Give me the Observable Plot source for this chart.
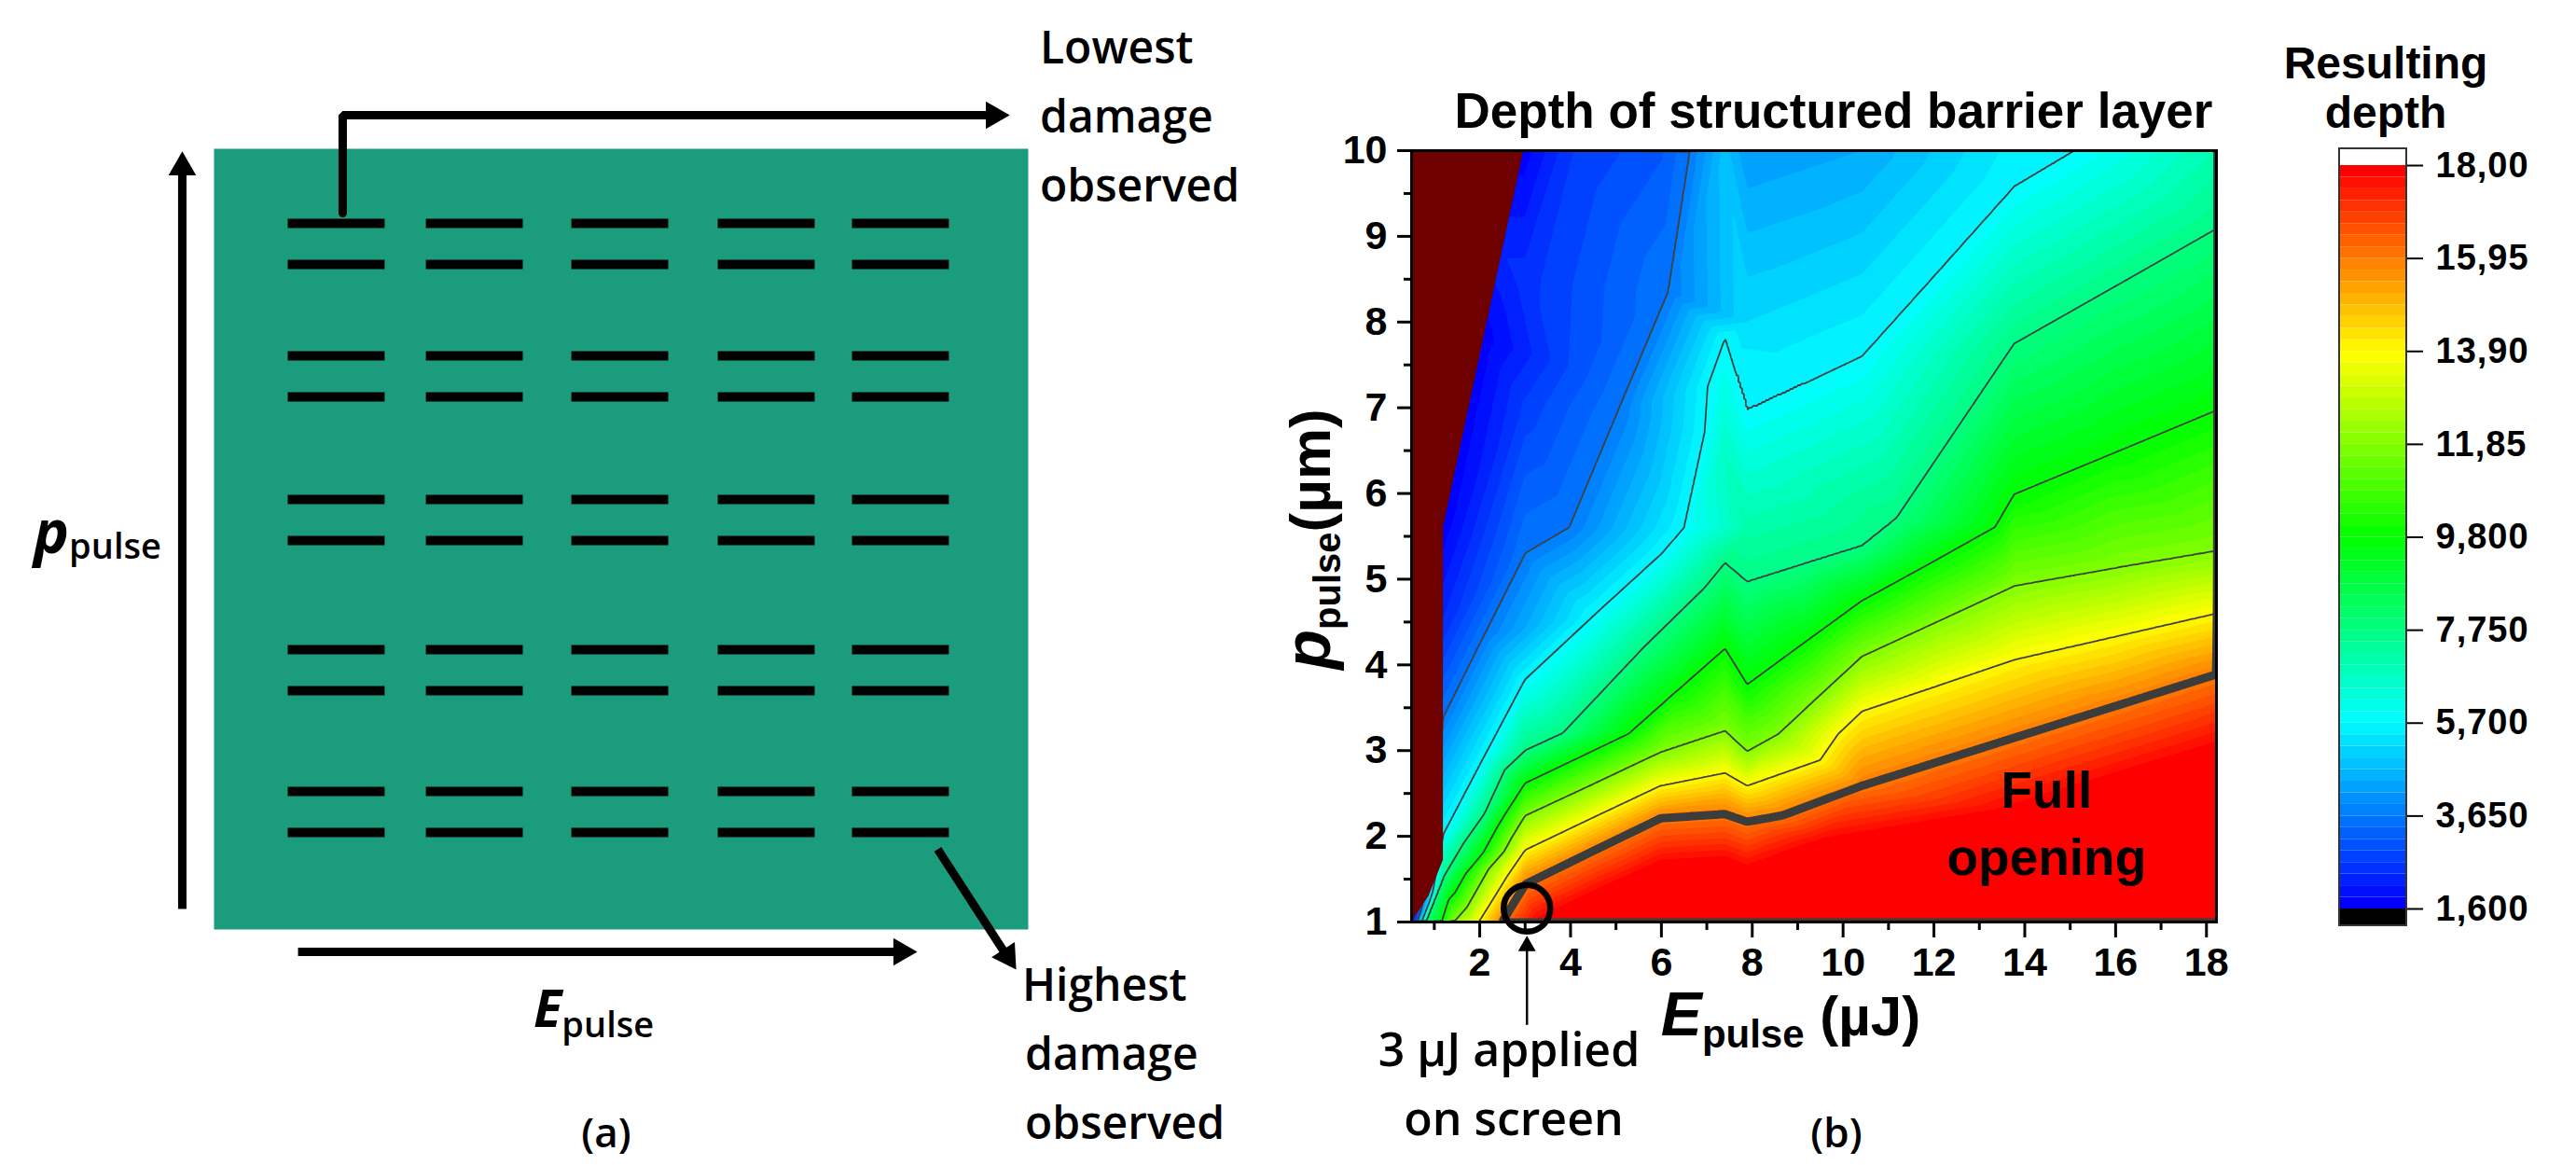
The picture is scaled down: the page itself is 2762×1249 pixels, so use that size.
<!DOCTYPE html>
<html>
<head>
<meta charset="utf-8">
<script src="https://cdn.jsdelivr.net/npm/d3@7"></script>
<script src="https://cdn.jsdelivr.net/npm/@observablehq/plot@0.6"></script>
<style>
  html, body { margin: 0; padding: 0; background: #ffffff; }
  #root { position: relative; width: 2762px; height: 1249px; overflow: hidden; background: #ffffff; }
  #root > svg { position: absolute; }
</style>
</head>
<body>
<div id="root"></div>
<script>
// ================= DATA =================
// Panel (b): iso-depth lines (E in µJ, p in µm)
const isoLevels = [3.65, 5.7, 7.75, 9.8, 11.85, 13.9, 15.95, 18];
const isoE = [
  [0.62, 1.2, 2.1, 3.0, 3.97, 5.06, 6.15, 6.63],
  [0.72, 1.2, 2.1, 3.0, 4.5, 6.01, 6.5, 6.95, 7.4, 7.645, 7.89, 9.15, 10.42, 12.1, 13.77, 15.1],
  [0.81, 1.2, 2.1, 3.0, 3.82, 5.6, 7.4, 7.645, 7.89, 9.15, 10.42, 11.17, 12.47, 13.77, 16.0, 18.22],
  [1.16, 2.08, 3.0, 4.15, 5.29, 6.35, 7.4, 7.645, 7.89, 9.15, 10.42, 11.9, 13.35, 13.77, 16.0, 18.22],
  [1.43, 2.2, 3.0, 4.5, 5.98, 7.4, 7.645, 7.89, 8.57, 9.5, 10.42, 12.1, 13.77, 16.0, 18.22],
  [1.98, 3.0, 4.5, 5.98, 7.4, 7.645, 7.89, 9.9, 10.42, 12.1, 13.77, 16.0, 18.22],
  [2.49, 3.0, 4.5, 5.98, 7.4, 7.89, 10.42, 13.77, 16.0, 18.22],
  [3.3, 4.6, 5.98, 7.4, 7.89, 9.46, 13.77, 18.22, 18.22]
];
const isoP = [
  [1, 3.39, 4.35, 5.3, 5.6, 6.98, 8.35, 10],
  [1, 2.02, 2.93, 3.83, 4.57, 5.3, 5.6, 6.7, 7.81, 7.39, 6.97, 7.28, 7.6, 8.59, 9.58, 10],
  [1, 1.52, 2.26, 3.0, 3.2, 4.2, 5.19, 5.08, 4.97, 5.18, 5.39, 5.71, 6.73, 7.75, 8.42, 9.09],
  [1, 1.81, 2.62, 2.91, 3.2, 3.7, 4.19, 3.98, 3.77, 4.26, 4.75, 5.18, 5.61, 5.99, 6.48, 6.97],
  [1, 1.62, 2.24, 2.61, 2.98, 3.23, 3.11, 2.99, 3.19, 3.65, 4.10, 4.51, 4.92, 5.13, 5.33],
  [1, 1.84, 2.22, 2.59, 2.74, 2.665, 2.59, 3.2, 3.46, 3.76, 4.06, 4.33, 4.6],
  [1, 1.44, 1.83, 2.21, 2.26, 2.17, 2.59, 3.15, 3.52, 3.89],
  [1, 1.33, 1.66, 1.7, 1.6, 1.9, 2.28, 3.0, 1]
];
// extra depth samples
const extraE = [0.5, 0.5, 0.5, 1.2, 1.2, 2.08, 2.97, 3.0, 3.0, 4.0, 4.0, 6.0, 7.4, 7.89, 10.42, 13.77, 18.22,
                7.4, 7.4, 7.4, 7.4, 7.4, 7.4, 7.4, 7.4, 7.89, 7.89, 7.89, 7.89, 7.89, 7.89, 7.89, 7.89];
const extraP = [1, 5, 10, 5.6, 4.5, 7.8, 10, 8.5, 7.0, 7.5, 10, 10, 10, 10, 10, 10, 10,
                7.3, 6.9, 6.5, 4.7, 3.7, 3.0, 2.5, 2.0, 8.0, 6.5, 5.6, 4.3, 3.4, 2.8, 2.35, 1.9];
const extraV = [1.7, 1.7, 1.7, 1.7, 2.4, 1.7, 1.7, 2.5, 2.7, 2.9, 2.6, 3.1, 4.8, 4.2, 4.42, 5.55, 7.0,
                6.1, 6.4, 6.7, 8.75, 10.85, 12.8, 14.93, 16.9, 5.19, 6.2, 7.1, 8.9, 10.8, 12.8, 15.07, 16.92];
// region without data (dark red), boundary vertices
const blankE = [0.5, 0.88, 1.2, 1.2, 2.97];
const blankP = [1, 1.3, 1.72, 5.6, 10];
// contour lines drawn in the map
const thinLevels = [3.65, 5.7, 7.75, 9.8, 11.85, 13.9];
const thickLevels = [15.95];
// colour bar
const depthMin = 1.6, depthMax = 18, bandCount = 64;
const barTicks = [1.6, 3.65, 5.7, 7.75, 9.8, 11.85, 13.9, 15.95, 18];
const barLabels = ["1,600", "3,650", "5,700", "7,750", "9,800", "11,85", "13,90", "15,95", "18,00"];
// axes
const xMajor = [2, 4, 6, 8, 10, 12, 14, 16, 18];
const xMinor = [1, 3, 5, 7, 9, 11, 13, 15, 17];
const yMajor = [1, 2, 3, 4, 5, 6, 7, 8, 9, 10];
const yMinor = [1.5, 2.5, 3.5, 4.5, 5.5, 6.5, 7.5, 8.5, 9.5];
// annotation: circle at 3 µJ
const marker = [{E: 3.04, p: 1.16}];

// Panel (a): schematic grid (column / row centres in grid units)
const dashCols = [0.900, 1.918, 2.990, 4.069, 5.058];
const dashRows = [0.731, 1.749, 2.853, 4.007, 5.097];
const bracket = [{x: 0.948, y: 0.495}, {x: 0.948, y: -0.258}, {x: 5.73, y: -0.258}];
const shafts = [
  {x1: -0.234, y1: 5.842, x2: -0.234, y2: 0.16},
  {x1: 0.619, y1: 6.172, x2: 5.06, y2: 6.172},
  {x1: 5.333, y1: 5.384, x2: 5.84, y2: 6.2}
];
const heads = [
  {x: -0.234, y: 0.143, rot: 0},
  {x: 5.065, y: 6.172, rot: 90},
  {x: 5.746, y: -0.258, rot: 90},
  {x: 5.847, y: 6.206, rot: 147}
];

// ================= BUILD =================
const samples = [];
isoLevels.forEach((v, i) => isoE[i].forEach((E, j) => samples.push({E, p: isoP[i][j], v})));
extraE.forEach((E, j) => samples.push({E, p: extraP[j], v: extraV[j]}));
const blank = blankE.map((e, i) => ({e, p: blankP[i]}));

const EPS = 1e-6;
const bandStep = (depthMax - depthMin) / bandCount;
const bandThresholds = d3.range(bandCount).map(k => depthMin + k * bandStep + EPS);
const rainbow = d3.piecewise(d3.interpolateRgb, ["#0000ff", "#00ffff", "#00ff00", "#ffff00", "#ff0000"]);
const bandColors = bandThresholds.map((t, k) => rainbow(k / (bandCount - 1)));
const colorScale = {type: "threshold", domain: bandThresholds.slice(1), range: bandColors};
const bands = bandThresholds.map((t, k) => ({lo: t, hi: k === bandCount - 1 ? depthMax : bandThresholds[k + 1]}));
const thinThresholds = thinLevels.map(v => v + 1e-4);
const thickThresholds = thickLevels.map(v => v + 1e-4);

const SANS = "'Liberation Sans', Arial, Helvetica, sans-serif";
const SEG = "'Open Sans', 'Noto Sans', sans-serif";
const root = document.getElementById("root");
function place(node, left, top) { node.style.left = left + "px"; node.style.top = top + "px"; root.appendChild(node); }

// ---------- Panel (a) ----------
const dashes = [];
for (const c of dashCols) for (const r of dashRows) for (const o of [-0.158, 0.158]) dashes.push({x1: c - 0.357, x2: c + 0.357, y: r + o});
const plotA = Plot.plot({
  width: 1400, height: 1249,
  marginLeft: 229, marginRight: 298, marginTop: 159, marginBottom: 253,
  x: {domain: [0, 6], axis: null},
  y: {domain: [0, 6], reverse: true, axis: null},
  style: {background: "transparent", overflow: "visible"},
  marks: [
    Plot.frame({fill: "#1b9c7c", stroke: "none"}),
    Plot.link(dashes, {x1: "x1", x2: "x2", y1: "y", y2: "y", stroke: "black", strokeWidth: 10, strokeLinecap: "butt"}),
    Plot.line(bracket, {x: "x", y: "y", stroke: "black", strokeWidth: 9, strokeLinejoin: "miter"}),
    Plot.link(shafts, {x1: "x1", y1: "y1", x2: "x2", y2: "y2", stroke: "black", strokeWidth: 9}),
    Plot.dot(heads, {x: "x", y: "y", rotate: "rot", symbol: "triangle", r: 11, fill: "black", stroke: "none"})
  ]
});
place(plotA, 0, 0);

// ---------- Panel (b) ----------
const contourBase = {x: "E", y: "p", value: "v", interpolate: "barycentric", x1: 0.2, x2: 18.6, y1: 0.7, y2: 10.3, clip: true, pixelSize: 2};
const plotB = Plot.plot({
  width: 1100, height: 1249,
  marginLeft: 163, marginRight: 74, marginTop: 161, marginBottom: 261,
  x: {domain: [0.5, 18.22]},
  y: {domain: [1, 10]},
  color: colorScale,
  style: {fontFamily: SANS, fontWeight: "bold", fontSize: "43px", color: "black", background: "transparent", overflow: "visible"},
  marks: [
    Plot.contour(samples, {...contourBase, fill: "value", stroke: "none", thresholds: bandThresholds}),
    Plot.contour(samples, {...contourBase, fill: "none", stroke: "#404040", strokeWidth: 1.8, thresholds: thinThresholds}),
    Plot.contour(samples, {...contourBase, fill: "none", stroke: "#3c3c3c", strokeWidth: 9, thresholds: thickThresholds}),
    Plot.areaX(blank, {y: "p", x1: 0.5, x2: "e", fill: "#6e0000", stroke: "none"}),
    Plot.dot(marker, {x: "E", y: "p", r: 25, stroke: "black", strokeWidth: 6.5, fill: "none"}),
    Plot.link([{E: 3.04, p0: -0.2, p1: 0.74}], {x1: "E", x2: "E", y1: "p0", y2: "p1", stroke: "black", strokeWidth: 2.5}),
    Plot.dot([{E: 3.04, p: 0.72}], {x: "E", y: "p", symbol: "triangle", r: 7, fill: "black", stroke: "none"}),
    Plot.text([{E: 14.48, p: 2.19}], {x: "E", y: "p", text: () => "Full\nopening", fontSize: 55, fontWeight: "bold", lineHeight: 1.3, fill: "black"}),
    Plot.frame({stroke: "black", strokeWidth: 3}),
    Plot.axisX({ticks: xMajor, tickSize: 17, tickPadding: 10, strokeWidth: 3, label: null, fontSize: 43, fontWeight: "bold"}),
    Plot.axisX({ticks: xMinor, tickSize: 9, tickFormat: () => "", strokeWidth: 3, label: null}),
    Plot.axisY({ticks: yMajor, tickSize: 15, tickPadding: 11, strokeWidth: 3, label: null, fontSize: 43, fontWeight: "bold"}),
    Plot.axisY({ticks: yMinor, tickSize: 8, tickFormat: () => "", strokeWidth: 3, label: null})
  ]
});
place(plotB, 1350, 0);

// ---------- Colour bar ----------
const plotC = Plot.plot({
  width: 362, height: 1249,
  marginLeft: 108, marginRight: 182, marginTop: 177, marginBottom: 275,
  x: {domain: [0, 1], axis: null},
  y: {domain: [depthMin, depthMax]},
  color: colorScale,
  style: {fontFamily: SANS, fontWeight: "bold", fontSize: "38px", color: "black", background: "transparent", overflow: "visible", letterSpacing: "1px"},
  marks: [
    Plot.rect(bands, {x1: 0, x2: 1, y1: "lo", y2: "hi", fill: "lo"}),
    Plot.rect([{lo: 18, hi: 18.37}], {x1: 0, x2: 1, y1: "lo", y2: "hi", fill: "white"}),
    Plot.rect([{lo: 1.23, hi: 1.6}], {x1: 0, x2: 1, y1: "lo", y2: "hi", fill: "black"}),
    Plot.rect([{lo: 1.23, hi: 18.37}], {x1: 0, x2: 1, y1: "lo", y2: "hi", fill: "none", stroke: "#333", strokeWidth: 2}),
    Plot.axisY({anchor: "right", ticks: barTicks, tickFormat: d => barLabels[barTicks.indexOf(d)], tickSize: 17, tickPadding: 14, strokeWidth: 2, label: null, fontSize: 38, fontWeight: "bold"})
  ]
});
place(plotC, 2400, 0);

// ---------- Text overlay ----------
const ov = d3.select(root).append("svg").attr("width", 2762).attr("height", 1249).style("left", "0px").style("top", "0px");
function addText(x, y, anchor, family, parts, rotate) {
  const g = ov.append("g").attr("transform", `translate(${x},${y})` + (rotate ? ` rotate(${rotate})` : ""));
  const t = g.append("text").attr("text-anchor", anchor).attr("font-family", family).attr("fill", "#000");
  for (const p of parts) {
    t.append("tspan").text(p.t).attr("font-size", p.size).attr("font-weight", p.weight || 700)
      .attr("font-style", p.italic ? "italic" : "normal").attr("dy", p.dy || 0);
  }
}
// panel (a)
addText(1115, 68, "start", SEG, [{t: "Lowest", size: 48, weight: 600}]);
addText(1115, 142, "start", SEG, [{t: "damage", size: 48, weight: 600}]);
addText(1115, 216, "start", SEG, [{t: "observed", size: 48, weight: 600}]);
addText(1096, 1073, "start", SEG, [{t: "Highest", size: 48, weight: 600}]);
addText(1099, 1147, "start", SEG, [{t: "damage", size: 48, weight: 600}]);
addText(1099, 1221, "start", SEG, [{t: "observed", size: 48, weight: 600}]);
addText(36, 593, "start", SEG, [{t: "p", size: 64, weight: 700, italic: true}, {t: "pulse", size: 38, weight: 600, dy: 6}]);
addText(572, 1101, "start", SEG, [{t: "E", size: 56, weight: 700, italic: true}, {t: "pulse", size: 38, weight: 600, dy: 11}]);
addText(650, 1230, "middle", SEG, [{t: "(a)", size: 44, weight: 600}]);
// panel (b)
addText(1966, 137, "middle", SANS, [{t: "Depth of structured barrier layer", size: 53}]);
addText(1920, 1110, "middle", SANS, [{t: "E", size: 66, italic: true}, {t: "pulse", size: 42, dy: 13}, {t: " (µJ)", size: 60, dy: -13}]);
addText(1426, 578, "middle", SANS, [{t: "p", size: 70, italic: true}, {t: "pulse", size: 40, dy: 11}, {t: "(µm)", size: 62, dy: -11}], -90);
addText(1618, 1143, "middle", SEG, [{t: "3 µJ applied", size: 50, weight: 600}]);
addText(1623, 1217, "middle", SEG, [{t: "on screen", size: 50, weight: 600}]);
addText(1969, 1230, "middle", SEG, [{t: "(b)", size: 44, weight: 600}]);
// colour bar title
addText(2558, 84, "middle", SANS, [{t: "Resulting", size: 48}]);
addText(2558, 137, "middle", SANS, [{t: "depth", size: 48}]);
</script>
</body>
</html>
